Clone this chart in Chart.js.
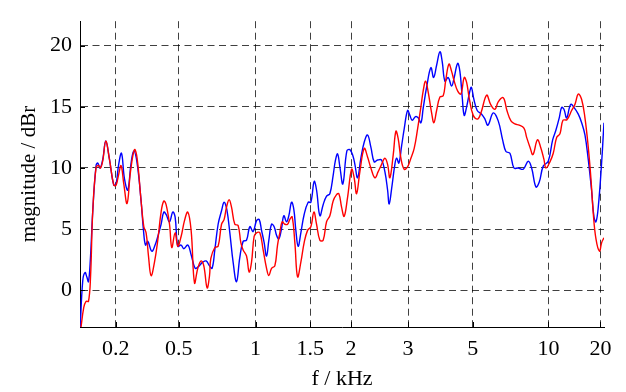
<!DOCTYPE html>
<html><head><meta charset="utf-8">
<script src="https://cdn.jsdelivr.net/npm/chart.js@4.4.1/dist/chart.umd.min.js"></script>
<style>html,body{margin:0;padding:0;background:#fff}#wrap{width:626px;height:392px;position:relative}</style>
</head><body><div id="wrap"><canvas id="c"></canvas></div>
<script>
// x axis: critical-band rate (Bark) of frequency; ticks labelled in kHz
const tickFreqsKHz = [0.2, 0.5, 1, 1.5, 2, 3, 5, 10, 20];
const tickLabels = ['0.2', '0.5', '1', '1.5', '2', '3', '5', '10', '20'];
const yTickValues = [0, 5, 10, 15, 20];
const xRangeKHz = [0.038, 21.35];
const yRange = [-3, 22];

// blue series: x in Bark, magnitude in dBr
const blueBark = [
0.286,0.413,0.521,0.601,0.681,0.775,0.883,1.038,1.118,1.226,
1.352,1.493,1.667,1.869,1.977,2.090,2.231,2.372,2.527,2.682,
2.809,2.964,3.152,3.264,3.358,3.466,3.654,3.809,3.936,4.091,
4.218,4.326,4.486,4.641,4.749,4.876,5.031,5.158,5.346,5.501,
5.688,5.815,6.050,6.205,6.365,6.487,6.614,6.769,6.929,7.051,
7.178,7.319,7.473,7.633,7.788,7.943,8.103,8.258,8.413,8.573,
8.695,8.808,8.930,9.043,9.151,9.277,9.400,9.512,9.620,9.747,
9.855,9.982,10.090,10.217,10.325,10.419,10.527,10.654,10.809,10.997,
11.124,11.279,11.391,11.547,11.701,11.861,12.016,12.171,12.275,12.378,
12.486,12.627,12.815,12.956,13.097,13.191,13.317,13.473,13.628,13.787,
13.942,14.097,14.257,14.445,14.600,14.727,14.802,14.915,15.070,15.150,
15.258,15.385,15.507,15.666,15.774,15.883,16.042,16.164,16.291,16.399,
16.559,16.761,16.888,17.029,17.184,17.292,17.419,17.574,17.733,17.855,
18.015,18.123,18.231,18.325,18.438,18.593,18.663,18.781,18.936,19.143,
19.298,19.439,19.688,19.922,20.129,20.284,20.472,20.660,20.862,21.097,
21.332,21.491,21.694,21.849,22.036,22.271,22.478,22.633,22.788,22.901,
23.009,23.136,23.324,23.479,23.681,23.840,23.995,24.150,24.310,24.418,
24.512,24.620,24.780,24.888];
const blueDb = [
-3.3,0.8,1.45,1.1,0.7,2.7,6.5,10.2,10.4,10.0,
10.7,12.2,10.7,8.6,8.7,10.2,11.2,9.1,8.2,10.4,
11.4,10.4,7.3,4.9,3.7,4.0,3.2,3.7,4.4,5.4,
6.4,6.2,5.6,6.4,6.0,3.6,3.7,3.4,3.7,2.9,
1.8,1.9,2.3,2.4,2.0,1.8,3.3,5.4,6.5,7.2,
6.6,4.7,2.3,0.7,2.7,4.0,4.1,5.2,4.8,5.7,
5.8,4.9,3.9,2.8,4.1,5.4,5.2,4.5,4.2,5.05,
6.1,5.6,6.1,7.2,6.6,4.9,3.6,4.7,6.2,7.2,
7.2,8.9,8.2,6.1,7.0,7.7,7.9,9.4,10.6,11.15,
10.1,8.7,11.4,11.5,11.0,10.3,9.2,10.8,12.1,12.7,
11.7,10.5,10.65,10.65,9.7,8.2,7.05,8.3,10.3,10.8,
10.4,11.8,13.2,14.7,14.3,13.9,14.2,14.1,13.7,14.9,
16.6,18.2,17.4,18.4,19.5,18.7,17.1,17.4,16.7,17.4,
18.55,17.9,15.8,14.3,15.0,16.3,16.6,15.6,14.7,14.4,
14.0,13.5,14.5,13.85,12.3,11.35,11.2,10.0,10.0,9.9,
10.55,10.0,8.45,8.85,10.15,10.55,12.3,13.1,14.1,14.95,
14.8,14.1,15.2,14.95,14.4,13.7,12.7,10.7,8.1,6.0,
5.6,6.8,10.5,13.7];

// red series
const redBark = [
0.310,0.460,0.568,0.681,0.775,0.883,1.038,1.150,1.244,1.352,
1.493,1.667,1.869,1.977,2.090,2.212,2.339,2.494,2.654,2.842,
2.964,3.152,3.279,3.387,3.499,3.621,3.781,3.936,4.091,4.218,
4.326,4.486,4.594,4.749,4.876,5.031,5.190,5.346,5.501,5.660,
5.815,5.970,6.097,6.252,6.365,6.426,6.614,6.769,6.929,7.051,
7.163,7.286,7.398,7.553,7.708,7.835,7.943,8.103,8.225,8.338,
8.460,8.573,8.728,8.883,9.043,9.151,9.277,9.432,9.559,9.667,
9.775,9.902,10.029,10.137,10.245,10.372,10.499,10.654,10.809,10.969,
11.124,11.265,11.391,11.547,11.701,11.861,12.016,12.171,12.322,12.439,
12.566,12.688,12.848,13.036,13.158,13.271,13.426,13.628,13.787,13.942,
14.130,14.285,14.445,14.600,14.727,14.835,14.990,15.117,15.225,15.352,
15.507,15.666,15.821,15.976,16.136,16.291,16.399,16.512,16.634,16.794,
16.902,17.029,17.184,17.339,17.452,17.606,17.733,17.855,18.015,18.170,
18.325,18.438,18.560,18.748,18.955,19.110,19.377,19.565,19.768,19.922,
20.157,20.331,20.519,20.707,20.909,21.130,21.257,21.412,21.553,21.764,
21.914,22.069,22.163,22.351,22.506,22.666,22.821,22.962,23.149,23.370,
23.525,23.681,23.840,23.995,24.150,24.277,24.385,24.512,24.676,24.780,
24.888];
const redDb = [
-3.3,-1.4,-0.9,-0.9,1.0,6.5,10.05,10.2,10.0,10.6,
12.2,10.7,8.6,8.6,9.4,10.2,8.7,7.1,9.7,11.5,
10.8,7.3,5.2,4.7,2.8,1.2,2.3,4.1,6.4,7.3,
7.0,5.4,3.5,4.7,3.6,4.4,5.7,6.4,4.9,0.6,
1.8,2.4,2.0,0.2,1.2,2.6,3.5,3.6,5.4,5.8,
6.8,7.4,6.8,5.4,5.3,3.9,3.3,2.8,1.5,2.3,
4.4,4.7,4.7,3.3,1.8,1.2,1.8,2.0,3.7,4.7,
5.6,5.4,5.4,5.8,6.0,3.9,1.1,2.3,3.9,4.9,
5.2,6.4,5.4,4.1,4.1,5.6,6.1,7.3,7.8,7.9,
6.8,6.05,7.6,9.9,9.2,7.9,9.7,11.6,10.9,10.0,
9.2,9.7,10.3,10.8,10.3,9.2,11.05,13.0,12.4,10.8,
9.9,10.1,10.8,11.6,13.2,15.0,16.3,17.1,16.2,14.5,
13.7,14.7,15.8,15.9,17.1,18.5,17.9,17.1,16.3,16.05,
17.4,17.0,15.7,14.3,14.0,14.5,15.95,15.2,14.8,15.4,
15.75,14.7,13.85,13.6,13.5,13.25,12.5,11.7,11.1,12.3,
11.7,10.7,10.0,10.5,11.2,12.5,12.8,13.9,13.95,14.7,
15.2,16.05,15.6,14.1,11.7,9.1,6.3,4.2,3.2,3.9,
4.3];

// Traunmueller critical-band rate (Bark) of a frequency in kHz
function bark(fk) {
  const f = fk * 1000;
  let z = 26.81 * f / (1960 + f) - 0.53;
  if (z < 2) z += 0.15 * (2 - z);
  else if (z > 20.1) z += 0.22 * (z - 20.1);
  return z;
}
const toPts = (xs, ys) => xs.map((x, i) => ({x: x, y: ys[i]}));

const FONT = "'Liberation Serif', 'Times New Roman', serif";
Chart.defaults.font.family = FONT;
Chart.defaults.color = '#000';

const innerTicks = {
  id: 'innerTicks',
  afterDatasetsDraw(chart) {
    const {ctx, chartArea: a, scales: {x, y}} = chart;
    ctx.save();
    ctx.strokeStyle = '#000';
    ctx.lineWidth = 1;
    ctx.beginPath();
    x.ticks.forEach(t => {
      const px = Math.round(x.getPixelForValue(t.value)) + 0.5;
      ctx.moveTo(px, a.bottom); ctx.lineTo(px, a.bottom - 5);
    });
    y.ticks.forEach(t => {
      const py = Math.round(y.getPixelForValue(t.value)) + 0.5;
      ctx.moveTo(a.left, py); ctx.lineTo(a.left + 5, py);
    });
    ctx.stroke();
    ctx.restore();
  }
};

new Chart(document.getElementById('c'), {
  type: 'line',
  data: {
    datasets: [
      {label: 'red', data: toPts(redBark, redDb), borderColor: '#ff0000', borderWidth: 1.4, pointRadius: 0, tension: 0.4, order: 0},
      {label: 'blue', data: toPts(blueBark, blueDb), borderColor: '#0000ff', borderWidth: 1.4, pointRadius: 0, tension: 0.4, order: 1}
    ]
  },
  options: {
    responsive: true,
    maintainAspectRatio: false,
    animation: false,
    events: [],
    layout: {padding: {top: 11, right: 22, bottom: 0, left: 0}},
    plugins: {legend: {display: false}, tooltip: {enabled: false}},
    scales: {
      x: {
        type: 'linear',
        min: bark(xRangeKHz[0]),
        max: bark(xRangeKHz[1]),
        afterBuildTicks: s => { s.ticks = tickFreqsKHz.map(f => ({value: bark(f)})); },
        afterFit: s => { s.height = 65; },
        ticks: {
          autoSkip: false, maxRotation: 0, padding: 9,
          font: {size: 22, family: FONT}, color: '#000',
          callback: (v, i) => tickLabels[i]
        },
        grid: {drawTicks: false, color: 'rgba(0,0,0,0.75)', lineWidth: 1},
        border: {display: true, color: '#000', width: 1, dash: [7, 4.5]},
        title: {display: true, text: 'f / kHz', font: {size: 22, family: FONT}, color: '#000', padding: {top: 3, bottom: 0}}
      },
      y: {
        type: 'linear',
        min: yRange[0],
        max: yRange[1],
        afterBuildTicks: s => { s.ticks = yTickValues.map(v => ({value: v})); },
        afterFit: s => { s.width = 80; },
        ticks: {padding: 8, font: {size: 22, family: FONT}, color: '#000'},
        grid: {drawTicks: false, color: 'rgba(0,0,0,0.75)', lineWidth: 1},
        border: {display: true, color: '#000', width: 1, dash: [7, 4.5]},
        title: {display: true, text: 'magnitude / dBr', font: {size: 21, family: FONT}, color: '#000', padding: {top: 17, bottom: 0}}
      }
    }
  },
  plugins: [innerTicks]
});
</script>
</body></html>
